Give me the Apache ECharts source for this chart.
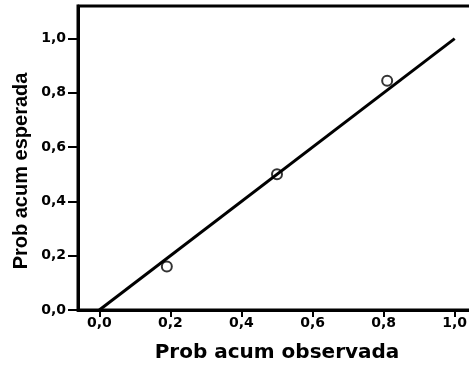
<!DOCTYPE html>
<html>
<head>
<meta charset="utf-8">
<script src="https://cdn.jsdelivr.net/npm/echarts@6/dist/echarts.min.js"></script>
<style>
  html, body { margin: 0; padding: 0; background: #fff; }
  #chart { width: 469px; height: 366px; }
</style>
</head>
<body>
<div id="chart"></div>
<script>
// observed vs expected cumulative probability (P-P plot)
const probObservada = [0.19, 0.50, 0.81];
const probEsperada = [0.16, 0.50, 0.845];
// diagonal reference
const refX = [0, 1];
const refY = [0, 1];
const xTicks = [0, 0.2, 0.4, 0.6, 0.8, 1.0];
const yTicks = [0, 0.2, 0.4, 0.6, 0.8, 1.0];
const xTitle = 'Prob acum observada';
const yTitle = 'Prob acum esperada';

const fmt = (v) => Number(v).toFixed(1).replace('.', ',');
const labelFont = { color: '#000', fontFamily: 'DejaVu Sans', fontWeight: 'bold', fontSize: 14 };

const myChart = echarts.init(document.getElementById('chart'), null, { renderer: 'canvas' });
const option = {
  backgroundColor: '#fff',
  animation: false,
  grid: {
    left: 78,
    top: 6,
    width: 398,
    bottom: 56,
    outerBoundsMode: 'none',
    containLabel: false,
    show: true,
    borderColor: '#000',
    borderWidth: 3,
    backgroundColor: 'transparent'
  },
  xAxis: {
    type: 'value',
    min: -0.06,
    max: 1.06,
    axisLine: { onZero: false, lineStyle: { color: '#000', width: 3 } },
    axisTick: { customValues: xTicks, length: 7, lineStyle: { color: '#000', width: 2 } },
    axisLabel: Object.assign({ customValues: xTicks, formatter: fmt, margin: 6, hideOverlap: false }, labelFont),
    splitLine: { show: false },
    name: xTitle,
    nameLocation: 'middle',
    nameGap: 33,
    nameTextStyle: { color: '#000', fontFamily: 'DejaVu Sans', fontWeight: 'bold', fontSize: 20 }
  },
  yAxis: {
    type: 'value',
    min: 0,
    max: 1.12,
    axisLine: { onZero: false, lineStyle: { color: '#000', width: 3 } },
    axisTick: { customValues: yTicks, length: 10, lineStyle: { color: '#000', width: 2 } },
    axisLabel: Object.assign({ customValues: yTicks, formatter: fmt, margin: 12 }, labelFont),
    splitLine: { show: false }
  },
  graphic: [{
    type: 'text',
    x: 21,
    y: 171,
    rotation: Math.PI / 2,
    style: {
      text: yTitle,
      fill: '#000',
      font: 'bold 20px "Liberation Sans"',
      textAlign: 'center',
      textVerticalAlign: 'middle'
    }
  }],
  series: [{
    type: 'line',
    data: refX.map((x, i) => [x, refY[i]]),
    showSymbol: false,
    lineStyle: { color: '#000', width: 3 },
    silent: true
  }, {
    type: 'scatter',
    data: probObservada.map((x, i) => [x, probEsperada[i]]),
    symbol: 'circle',
    symbolSize: 10,
    itemStyle: { color: 'rgba(0,0,0,0)', borderColor: '#000', borderWidth: 2 }
  }]
};
myChart.setOption(option, true);
</script>
</body>
</html>
